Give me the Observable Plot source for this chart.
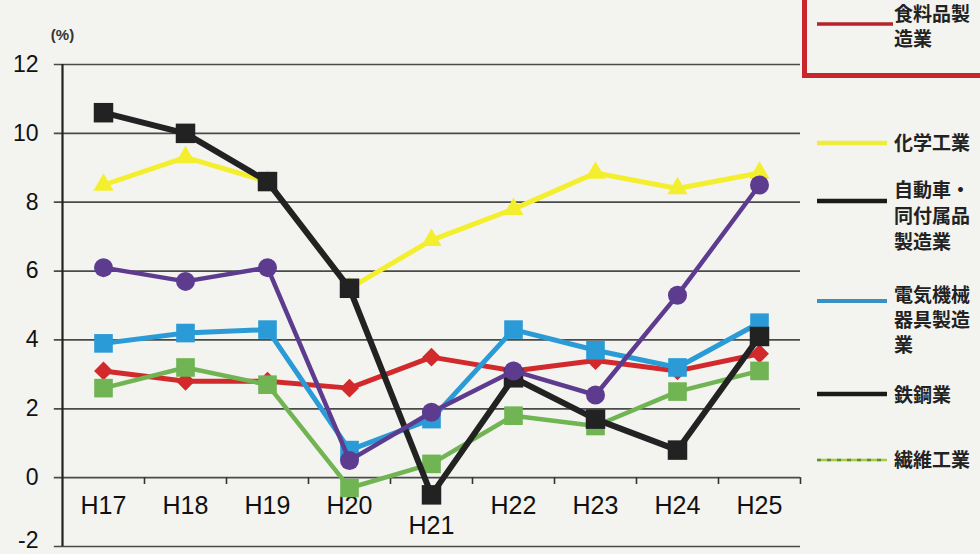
<!DOCTYPE html>
<html><head><meta charset="utf-8">
<script src="https://cdn.jsdelivr.net/npm/d3@7"></script>
<script src="https://cdn.jsdelivr.net/npm/@observablehq/plot@0.6"></script>
<style>
html,body{margin:0;padding:0;background:#f3f3ef;}
#wrap{position:relative;width:980px;height:554px;overflow:hidden;background:#f3f3ef;}
#wrap svg{display:block;}
#box{position:absolute;left:802px;top:-10px;width:200px;height:88px;box-sizing:border-box;border:5px solid #c8262c;}
#legend{position:absolute;left:0;top:0;}
</style></head><body><div id="wrap"><div id="box"></div></div>
<script>
// categories
const years = ["H17","H18","H19","H20","H21","H22","H23","H24","H25"];
// series values (%)
const food  = [3.1, 2.8, 2.8, 2.6, 3.5, 3.1, 3.4, 3.1, 3.6];   // 食料品製造業
const chem  = [8.5, 9.3, 8.6, 5.5, 6.9, 7.8, 8.85, 8.4, 8.85]; // 化学工業
const auto  = [6.1, 5.7, 6.1, 0.5, 1.9, 3.1, 2.4, 5.3, 8.5];   // 自動車・同付属品製造業
const elec  = [3.9, 4.2, 4.3, 0.8, 1.7, 4.3, 3.7, 3.2, 4.5];   // 電気機械器具製造業
const steel = [10.6, 10.0, 8.6, 5.5, -0.5, 2.9, 1.7, 0.8, 4.1];// 鉄鋼業
const fiber = [2.6, 3.2, 2.7, -0.3, 0.4, 1.8, 1.5, 2.5, 3.1];  // 繊維工業
const yTicks = [-2, 0, 2, 4, 6, 8, 10, 12];
const legendLabels = [["食料品製","造業"],["化学工業"],["自動車・","同付属品","製造業"],["電気機械","器具製造","業"],["鉄鋼業"],["繊維工業"]];

const rows = v => v.map((y, i) => ({i, y}));
// drawing order: red, green, yellow, blue, black, purple
const series = [
  {v: food,  color: "#d22a2c", symbol: "diamond2", r: 8.5, sw: 5},
  {v: fiber, color: "#70b453", symbol: "square",   r: 10.5,sw: 4.5},
  {v: chem,  color: "#f4ef2e", symbol: "triangle", r: 7.5, sw: 5},
  {v: elec,  color: "#2a9bd6", symbol: "square",   r: 10.5,sw: 5},
  {v: steel, color: "#222222", symbol: "square",   r: 11,  sw: 6},
  {v: auto,  color: "#5d3c90", symbol: "circle",   r: 9.5, sw: 4.5}
];

const idx = years.map((_, i) => i);
const bounds = years.map((_, i) => i + 0.5);

const marks = [
  Plot.ruleY(yTicks, {x1: -0.6, x2: 8.5, stroke: "#4a4a4a", strokeWidth: 1.7}),
  Plot.ruleX(bounds, {y1: 0, y2: -0.2, stroke: "#333", strokeWidth: 1.6}),
  Plot.ruleX([-0.5], {y1: -2, y2: 12, stroke: "#222", strokeWidth: 2.2}),
  Plot.text(yTicks.filter(t => t > -2), {x: -0.5, y: d => d, text: d => String(d), dx: -24, textAnchor: "end", fontSize: 23, fill: "#111"}),
  Plot.text(yTicks.filter(t => t === -2), {x: -0.5, y: d => d, text: d => String(d), dx: -24, dy: -6, textAnchor: "end", fontSize: 23, fill: "#111"}),
  Plot.text(idx.filter(i => years[i] !== "H21"), {x: d => d, y: 0, text: d => years[d], dy: 28, fontSize: 25, fill: "#111"}),
  Plot.text(idx.filter(i => years[i] === "H21"), {x: d => d, y: 0, text: d => years[d], dy: 48, fontSize: 25, fill: "#111"}),
  Plot.text(["(%)"], {x: -0.5, y: 12, dy: -29, text: d => d, fontSize: 15, fontWeight: "bold", fill: "#333"})
];
for (const s of series) {
  const d = rows(s.v);
  marks.push(Plot.line(d, {x: "i", y: "y", stroke: s.color, strokeWidth: s.sw, strokeLinejoin: "miter"}));
  marks.push(Plot.dot(d, {x: "i", y: "y", symbol: s.symbol, r: s.r, fill: s.color, stroke: "none"}));
}

const chart = Plot.plot({
  width: 980, height: 554,
  marginLeft: 62, marginRight: 180, marginTop: 64, marginBottom: 8,
  style: {background: "transparent", fontFamily: "'Liberation Sans', Arial, sans-serif"},
  x: {type: "linear", domain: [-0.5, 8.5], axis: null},
  y: {domain: [-2, 12], axis: null},
  marks
});
const wrap = document.getElementById("wrap");
wrap.insertBefore(chart, wrap.firstChild);

// legend overlay
const lg = d3.create("svg").attr("id", "legend").attr("width", 980).attr("height", 554);
const legendLines = [
  {y: 24,  x2: 893, color: "#b5242b", w: 3.5},
  {y: 143, x2: 887, color: "#f0ec3a", w: 4.5},
  {y: 201, x2: 887, color: "#1a1a1a", w: 4.5},
  {y: 301, x2: 887, color: "#3a90c2", w: 4},
  {y: 394, x2: 887, color: "#1a1a1a", w: 4.5},
  {y: 460, x2: 887, color: "#a8cc3c", w: 2.5, dash: true}
];
const textYs = [[14, 39], [143], [190, 216, 242], [295, 320, 345], [395], [460]];
legendLines.forEach((l, k) => {
  lg.append("line").attr("x1", 817).attr("x2", l.x2).attr("y1", l.y).attr("y2", l.y)
    .attr("stroke", l.color).attr("stroke-width", l.w);
  if (l.dash) {
    lg.append("line").attr("x1", 817).attr("x2", l.x2).attr("y1", l.y).attr("y2", l.y)
      .attr("stroke", "#5c8f3a").attr("stroke-width", 2.5).attr("stroke-dasharray", "4,6");
  }
  legendLabels[k].forEach((t, j) => {
    lg.append("text").attr("x", 894).attr("y", textYs[k][j]).attr("dy", "0.36em")
      .attr("font-family", "'Noto Sans CJK JP', sans-serif").attr("font-weight", "bold")
      .attr("font-size", 19).attr("fill", "#222").text(t);
  });
});
wrap.appendChild(lg.node());
</script>
</body></html>
